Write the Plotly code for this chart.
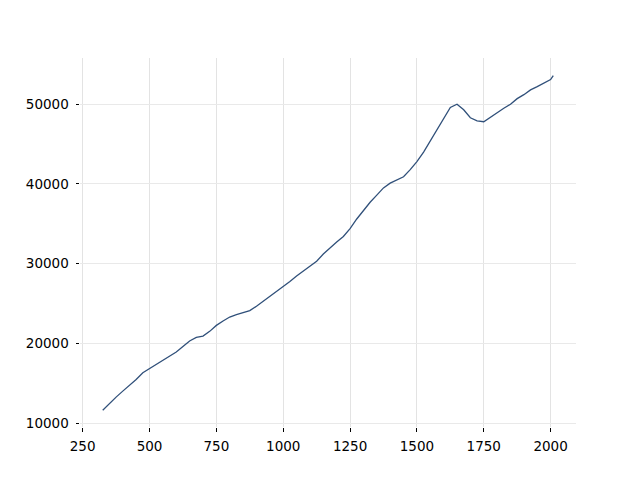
import plotly.graph_objects as go

x_vals = [325, 350, 375, 400, 425, 450, 475, 500, 525, 550, 575, 600, 625, 650, 675, 700,
          725, 750, 775, 800, 825, 850, 875, 900, 925, 950, 975, 1000, 1025, 1050, 1075,
          1100, 1125, 1150, 1175, 1200, 1225, 1250, 1275, 1300, 1325, 1350, 1375, 1400,
          1425, 1450, 1475, 1500, 1525, 1550, 1575, 1600, 1625, 1650, 1675, 1700, 1725,
          1750, 1775, 1800, 1825, 1850, 1875, 1900, 1925, 1950, 1975, 2000, 2010]
y_vals = [11600, 12450, 13250, 14000, 14700, 15450, 16300, 16800, 17300, 17800, 18300,
          18900, 19600, 20300, 20750, 20900, 21500, 22250, 22800, 23300, 23600, 23850,
          24100, 24650, 25250, 25950, 26500, 27100, 27750, 28450, 29050, 29600, 30300,
          31200, 32000, 32700, 33400, 34400, 35600, 36700, 37700, 38600, 39500, 40100,
          40500, 40900, 41800, 42800, 44000, 45400, 46900, 48300, 49600, 50000, 49300,
          48300, 47900, 47800, 48400, 48900, 49500, 50000, 50700, 51200, 51800, 52200,
          52600, 53100, 53600]

x_ticks = [250, 500, 750, 1000, 1250, 1500, 1750, 2000]
y_ticks = [10000, 20000, 30000, 40000, 50000]

fig = go.Figure(go.Scatter(x=x_vals, y=y_vals, mode="lines",
                           line=dict(color="#30507a", width=1.3)))

axis_common = dict(showline=False, zeroline=False, ticks="outside", ticklen=3.5,
                   tickwidth=0.8, tickcolor="black", showgrid=True,
                   tickfont=dict(family="DejaVu Sans", size=13.5, color="black"))

fig.update_layout(
    width=640, height=480,
    margin=dict(l=80, r=64, t=58, b=53),
    paper_bgcolor="white", plot_bgcolor="white",
    showlegend=False,
    xaxis=dict(range=[240, 2095], tickvals=x_ticks, ticktext=[str(v) for v in x_ticks],
               gridcolor="#e3e3e3", gridwidth=1.3, ticklabelstandoff=3, **axis_common),
    yaxis=dict(range=[9500, 55800], tickvals=y_ticks, ticktext=[str(v) for v in y_ticks],
               gridcolor="#e9e9e9", gridwidth=1.2, ticklabelstandoff=4, **axis_common),
)

fig.write_html("out.html", config={"displayModeBar": False},
               post_script="document.body.style.margin='0';")
